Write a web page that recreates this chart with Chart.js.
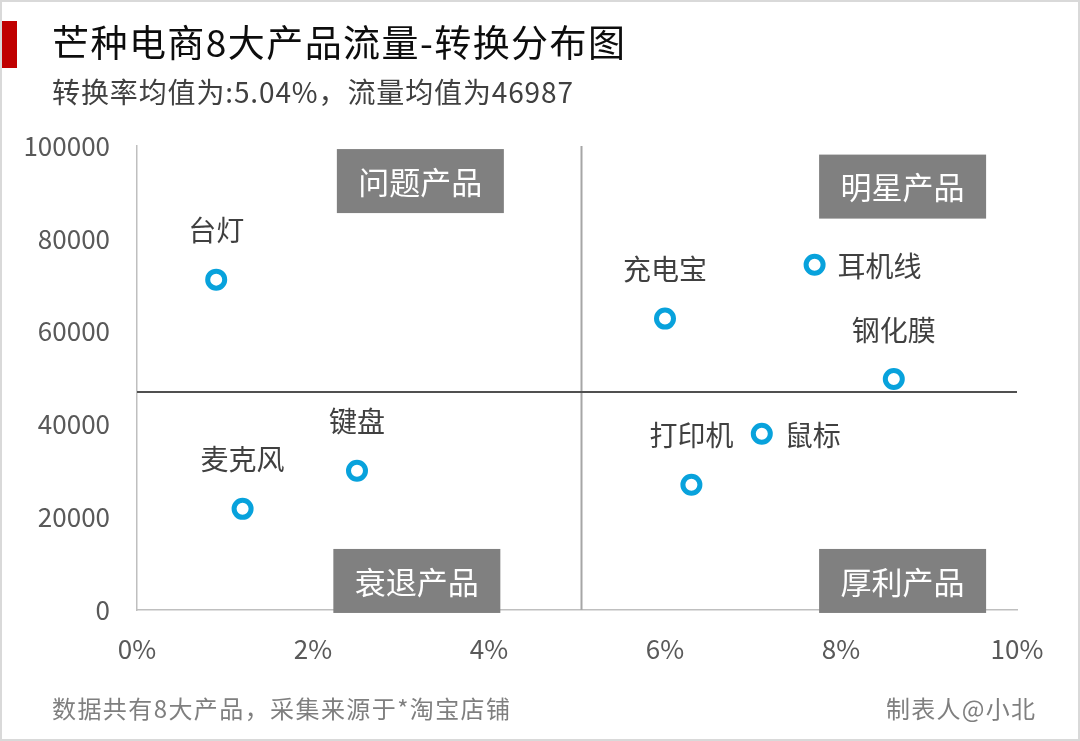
<!DOCTYPE html>
<html><head><meta charset="utf-8">
<script src="https://cdn.jsdelivr.net/npm/chart.js@4.4.0/dist/chart.umd.min.js"></script>
<style>
html,body{margin:0;padding:0;background:#fff;}
#wrap{position:relative;width:1080px;height:741px;overflow:hidden;background:#fff;}
#frame{position:absolute;left:0;top:0;width:1076px;height:737px;border:2px solid #d9d9d9;pointer-events:none;}
canvas{position:absolute;left:0;top:0;}
.t{position:absolute;white-space:nowrap;font-family:"Noto Sans CJK SC","Noto Sans",sans-serif;line-height:1;}
</style></head><body>
<div id="wrap">
<canvas id="c" width="1080" height="741"></canvas>
<div id="frame"></div>
<div style="position:absolute;left:2px;top:21px;width:15px;height:47px;background:#c00000"></div>
<div class="t" id="title" style="left:52px;top:23px;font-size:37px;color:#0d0d0d;">芒种电商8大产品流量-转换分布图</div>
<div class="t" id="sub" style="left:52px;top:77px;font-size:28px;color:#404040;">转换率均值为:5.04%，流量均值为46987</div>
<div class="t" id="foot1" style="left:52px;top:696px;font-size:24px;color:#7f7f7f;">数据共有8大产品，采集来源于*淘宝店铺</div>
<div class="t" id="foot2" style="left:886px;top:696px;font-size:24px;color:#7f7f7f;">制表人@小北</div>
</div>
<script>
// ---- data ----
const products = ['台灯','麦克风','键盘','充电宝','耳机线','钢化膜','打印机','鼠标'];
const conversionRate = [0.9, 1.2, 2.5, 6.0, 7.7, 8.6, 6.3, 7.1];   // %
const traffic = [71200, 21800, 30000, 62800, 74400, 49800, 27000, 38000];
const meanRate = 5.04;
const meanTraffic = 46987;
const quadrantNames = ['问题产品','明星产品','衰退产品','厚利产品'];
const xTickValues = [0, 2, 4, 6, 8, 10];
const yTickValues = [0, 20000, 40000, 60000, 80000, 100000];

const FONT = '"Noto Sans CJK SC","Noto Sans",sans-serif';

function fit(id, width){
  const el = document.getElementById(id);
  el.style.letterSpacing = '0px';
  const w = el.getBoundingClientRect().width;
  const n = el.textContent.length;
  el.style.letterSpacing = ((width - w) / (n - 1)) + 'px';
}
fit('title', 573); fit('sub', 521); fit('foot1', 458); fit('foot2', 149);

const refLines = {
  id: 'refLines',
  beforeDatasetsDraw(chart){
    const {ctx, chartArea:a, scales:{x, y}} = chart;
    ctx.save();
    const px = Math.round(x.getPixelForValue(meanRate)) + 0.5;
    ctx.strokeStyle = '#a6a6a6'; ctx.lineWidth = 2;
    ctx.beginPath(); ctx.moveTo(px, a.top); ctx.lineTo(px, a.bottom); ctx.stroke();
    const py = y.getPixelForValue(meanTraffic);
    ctx.strokeStyle = '#505050'; ctx.lineWidth = 2;
    ctx.beginPath(); ctx.moveTo(a.left, py); ctx.lineTo(a.right, py); ctx.stroke();
    ctx.restore();
  }
};

const quadrantBoxes = {
  id: 'quadrantBoxes',
  afterDraw(chart, args, opts){
    const {ctx, scales:{x, y}} = chart;
    ctx.save();
    opts.anchors.forEach((p, i) => {
      const cx = x.getPixelForValue(p.x), cy = y.getPixelForValue(p.y);
      ctx.fillStyle = '#808080';
      ctx.fillRect(cx - opts.w/2, cy - opts.h/2, opts.w, opts.h);
      ctx.fillStyle = '#ffffff';
      ctx.font = '31px ' + FONT;
      ctx.textAlign = 'center'; ctx.textBaseline = 'middle';
      ctx.fillText(quadrantNames[i], cx, cy + 1);
    });
    ctx.restore();
  }
};

const pointLabels = {
  id: 'pointLabels',
  afterDatasetsDraw(chart, args, opts){
    const {ctx} = chart;
    const meta = chart.getDatasetMeta(0);
    ctx.save();
    ctx.font = '28px ' + FONT;
    ctx.fillStyle = '#404040';
    ctx.textBaseline = 'middle';
    meta.data.forEach((el, i) => {
      const name = products[i];
      if (opts.right.includes(name)) {
        ctx.textAlign = 'left';
        ctx.fillText(name, el.x + 23, el.y + 2);
      } else {
        ctx.textAlign = 'center';
        ctx.fillText(name, el.x, el.y - 49);
      }
    });
    ctx.restore();
  }
};

new Chart(document.getElementById('c'), {
  type: 'scatter',
  data: {
    datasets: [{
      data: products.map((p, i) => ({x: conversionRate[i], y: traffic[i]})),
      pointRadius: 8.5,
      pointBorderWidth: 5,
      pointBorderColor: '#08a2dc',
      pointBackgroundColor: '#ffffff',
      pointHoverRadius: 8.5
    }]
  },
  options: {
    responsive: false,
    animation: false,
    events: [],
    layout: { padding: { left: 0, right: 63, top: 146, bottom: 71 } },
    plugins: {
      legend: { display: false },
      tooltip: { enabled: false },
      quadrantBoxes: {
        w: 167, h: 64,
        anchors: [ {x: 3.22, y: 92440}, {x: 8.70, y: 91250}, {x: 3.18, y: 6260}, {x: 8.70, y: 6260} ]
      },
      pointLabels: { right: ['耳机线', '鼠标'] }
    },
    scales: {
      x: {
        type: 'linear', min: 0, max: 10,
        afterFit(s){ s.height = 60; },
        afterBuildTicks(s){ s.ticks = xTickValues.map(v => ({value: v})); },
        grid: { display: true, drawOnChartArea: false, drawTicks: false, color: 'rgba(0,0,0,0)' },
        border: { display: true, color: '#bfbfbf', width: 1.5 },
        ticks: { padding: 24, color: '#595959', font: { family: FONT, size: 26 },
          maxRotation: 0, autoSkip: false, callback: v => v + '%' }
      },
      y: {
        type: 'linear', min: 0, max: 100000,
        afterFit(s){ s.width = 137; },
        afterBuildTicks(s){ s.ticks = yTickValues.map(v => ({value: v})); },
        grid: { display: true, drawOnChartArea: false, drawTicks: false, color: 'rgba(0,0,0,0)' },
        border: { display: true, color: '#bfbfbf', width: 1.5 },
        ticks: { padding: 27, color: '#595959', font: { family: FONT, size: 26 }, autoSkip: false,
          callback: v => String(v) }
      }
    }
  },
  plugins: [refLines, pointLabels, quadrantBoxes]
});
</script>
</body></html>
